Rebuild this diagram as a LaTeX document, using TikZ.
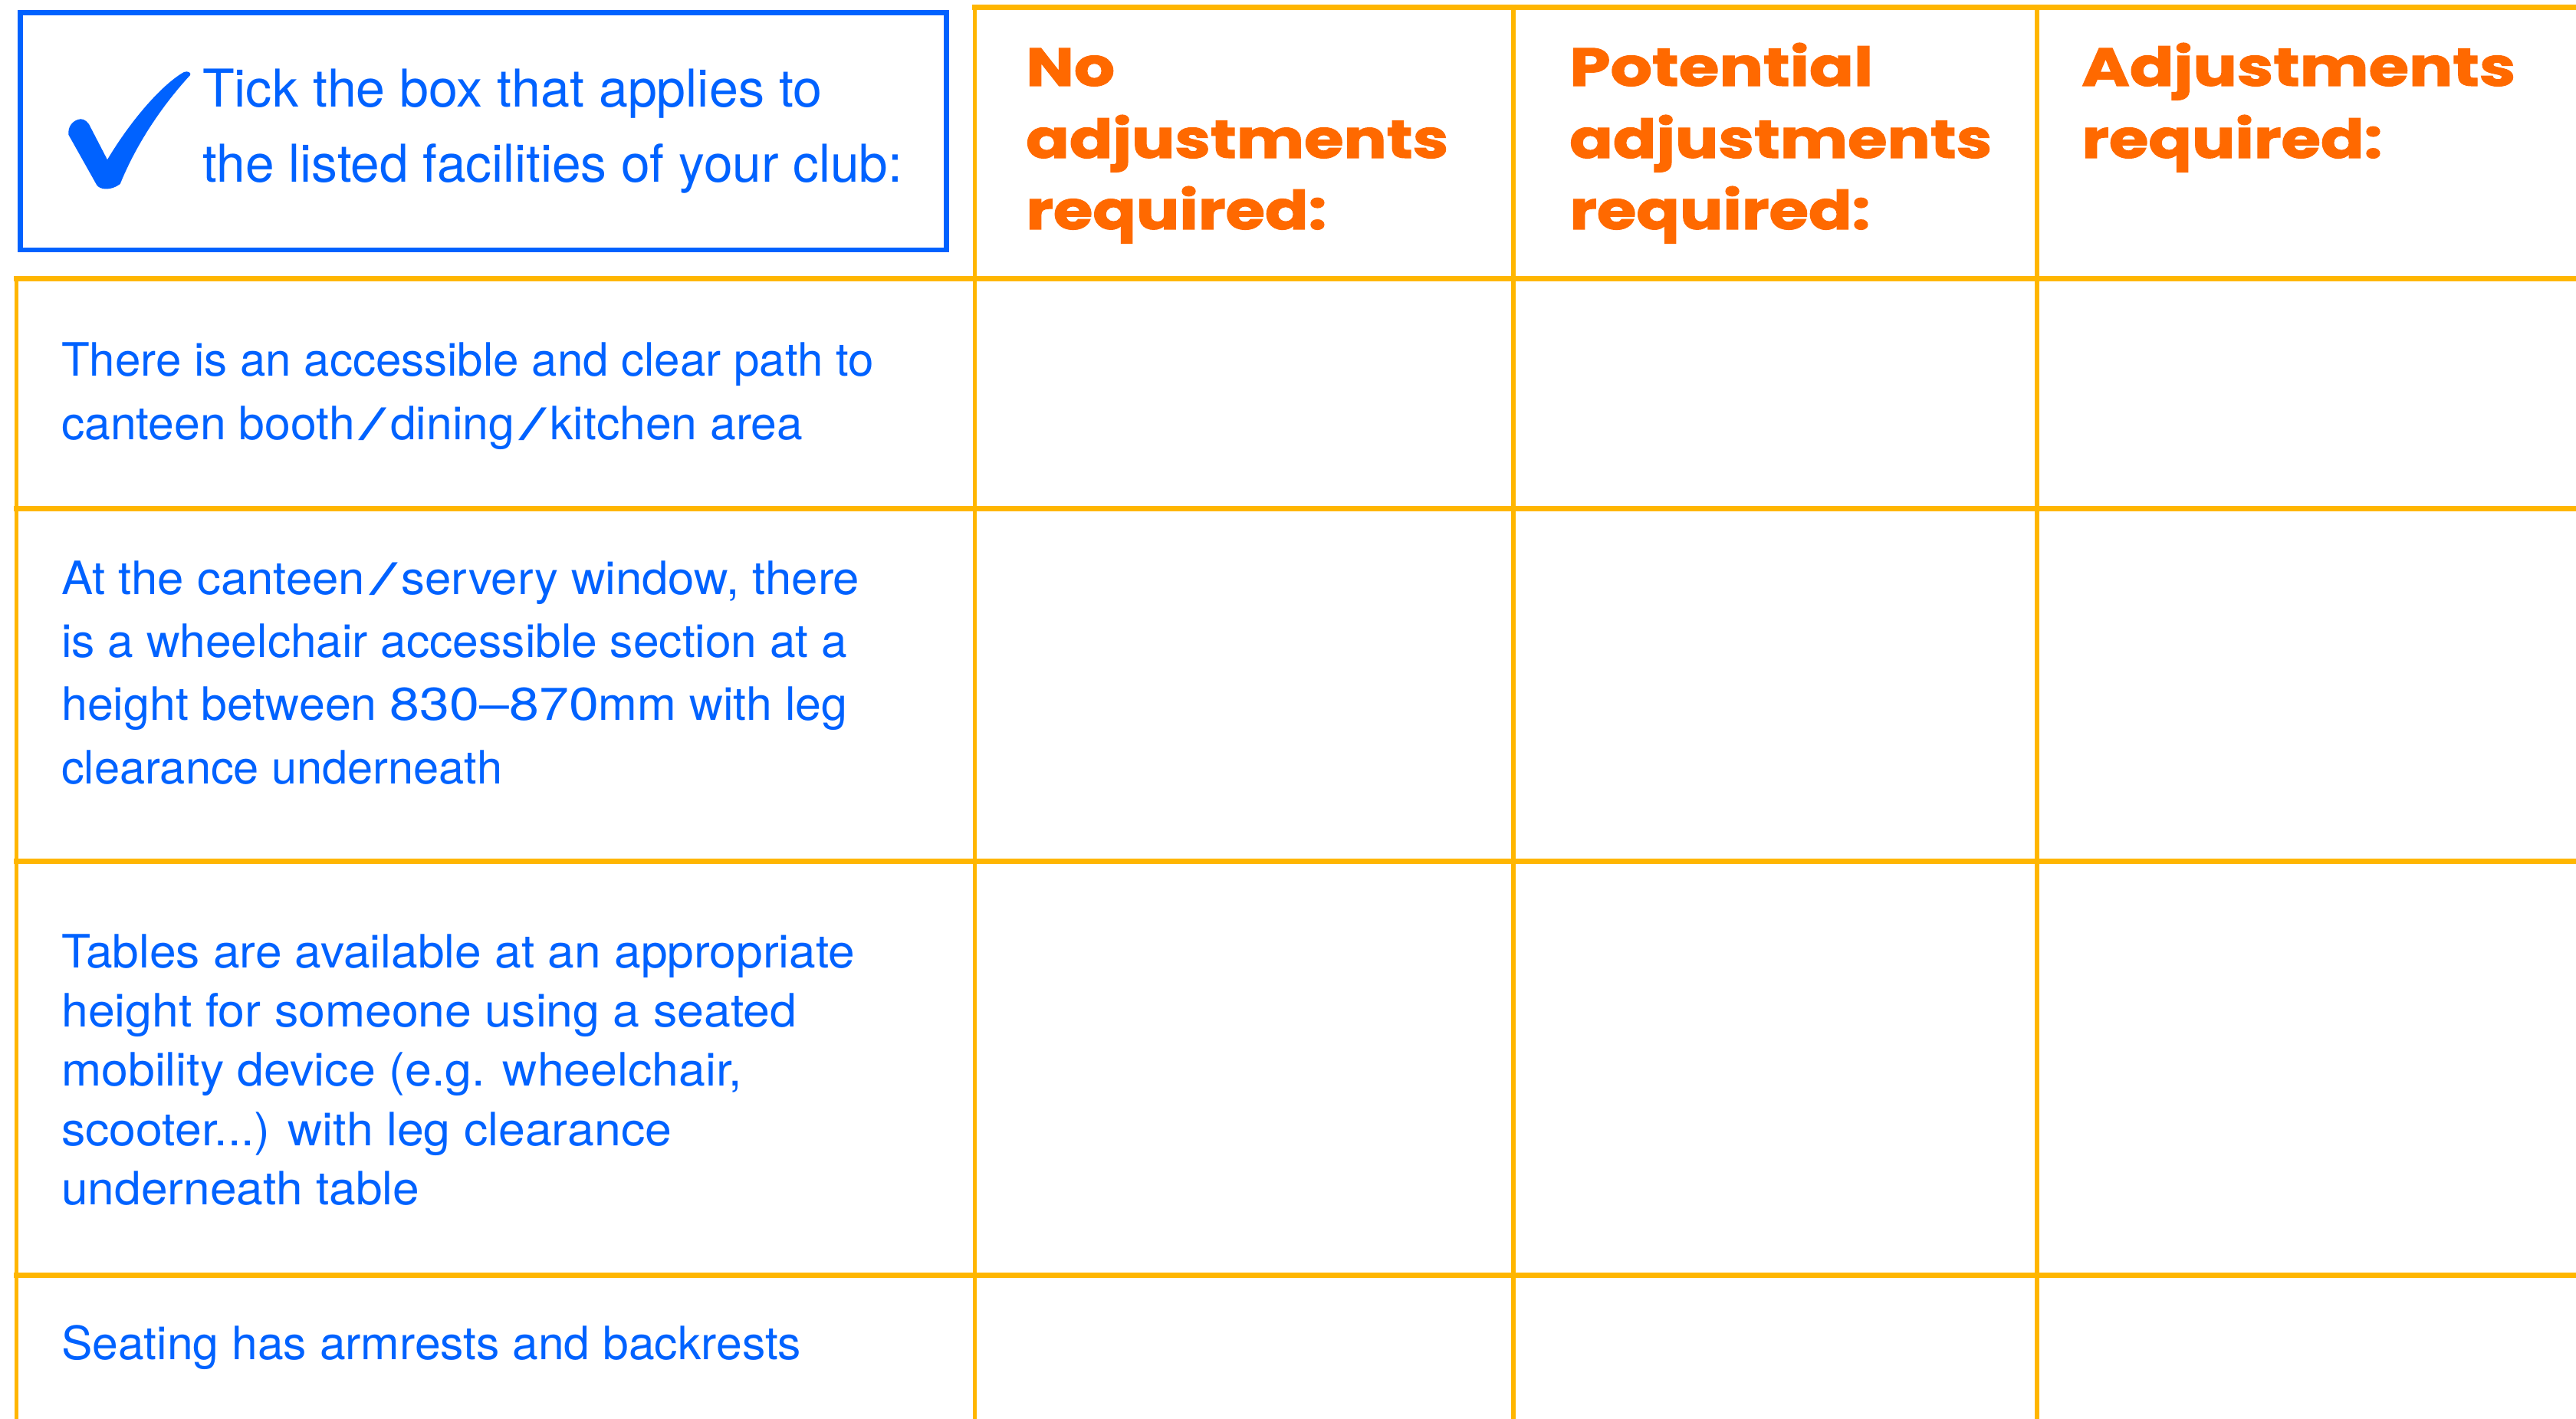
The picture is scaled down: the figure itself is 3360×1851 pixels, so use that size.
\documentclass[tikz,border=0pt]{standalone}
\usepackage{fontspec}
\setmainfont{TeX Gyre Heros}
\newfontfamily\hdrfont{Poppins}[FakeBold=1.5]
\definecolor{tickblue}{RGB}{0,98,255}
\definecolor{hdrorange}{RGB}{255,105,0}
\definecolor{gridamber}{RGB}{255,182,0}
\newsavebox\hdrmeasure
\newsavebox\fitbox
\AtBeginDocument{%
  \sbox\hdrmeasure{\hdrfont\bfseries\fontsize{70}{80}\selectfont adjustments}%
  \pgfmathsetmacro\hs{551/\the\wd\hdrmeasure}%
  \global\let\hs\hs}
% scale a line horizontally to a given width (in pt)
\newcommand\fitto[2]{\sbox\fitbox{#2}\pgfmathsetmacro\fitf{#1/\the\wd\fitbox}\scalebox{\fitf}[1]{\usebox\fitbox}}
\newcommand\wslash{\kern6pt\scalebox{2.1}[0.95]{/}\kern5pt}
\tikzset{
  gridh/.style={line width=7pt, draw=gridamber},
  gridv/.style={line width=5.5pt, draw=gridamber},
  bluebox/.style={line width=6.5pt, draw=tickblue},
  bodytext/.style={anchor=base west, inner sep=0pt, text=tickblue, font=\fontsize{60}{72}\selectfont},
  introtext/.style={anchor=base west, inner sep=0pt, text=tickblue, font=\fontsize{68}{80}\selectfont},
  hdrtext/.style={anchor=base west, inner sep=0pt, text=hdrorange, font=\hdrfont\bfseries\fontsize{70}{80}\selectfont},
}
\begin{document}
\begin{tikzpicture}[x=1pt,y=-1pt]
\useasboundingbox[fill=white] (0,0) rectangle (3360,1851);
% grid
\draw[gridh] (1268,9.5) -- (3360,9.5);
\draw[gridh] (18,363.5) -- (3360,363.5);
\draw[gridh] (18,663.5) -- (3360,663.5);
\draw[gridh] (18,1123.5) -- (3360,1123.5);
\draw[gridh] (18,1663.5) -- (3360,1663.5);
\draw[gridv] (1271.5,6) -- (1271.5,1851);
\draw[gridv] (1974,6) -- (1974,1851);
\draw[gridv] (2657,6) -- (2657,1851);
\draw[gridv] (21.5,360) -- (21.5,1851);
% intro box
\draw[bluebox] (26.5,16.3) rectangle (1234.5,326);
\fill[tickblue] (101.7,156) .. controls (95,158) and (88,165) .. (89.5,176)
  -- (126,241) .. controls (130,248) and (145,249) .. (156.7,240)
  .. controls (175,195) and (205,145) .. (248,98)
  .. controls (250,95) and (245,92) .. (240,94)
  .. controls (215,108) and (175,150) .. (140,208.3)
  -- (116,162) .. controls (112,156) and (106,154) .. (101.7,156) -- cycle;
\node[introtext] (introa) at (264,140) {\fitto{808}{Tick the box that applies to}};
\node[introtext] (introb) at (264,238) {\fitto{913}{the listed facilities of your club:}};
% headers
\node[hdrtext] (h1a) at (1338,112) {\scalebox{\hs}[1]{No}};
\node[hdrtext] (h1b) at (1338,206) {\scalebox{\hs}[1]{adjustments}};
\node[hdrtext] (h1c) at (1338,299) {\scalebox{\hs}[1]{required:}};
\node[hdrtext] (h2a) at (2047,112) {\fitto{396}{Potential}};
\node[hdrtext] (h2b) at (2047,206) {\scalebox{\hs}[1]{adjustments}};
\node[hdrtext] (h2c) at (2047,299) {\scalebox{\hs}[1]{required:}};
\node[hdrtext] (h3a) at (2715,112) {\fitto{566}{Adjustments}};
\node[hdrtext] (h3b) at (2715,206) {\scalebox{\hs}[1]{required:}};
% row 1
\node[bodytext] (r1a) at (80,490) {\fitto{1060}{There is an accessible and clear path to}};
\node[bodytext] (r1b) at (80,573) {\fitto{967}{canteen booth\wslash dining\wslash kitchen area}};
% row 2
\node[bodytext] (r2a) at (80,775) {\fitto{1041}{At the canteen\wslash servery window, there}};
\node[bodytext] (r2b) at (80,857) {\fitto{1025}{is a wheelchair accessible section at a}};
\node[bodytext] (r2c) at (80,939) {\fitto{1025}{height between \scalebox{1.15}[1]{830–870}mm with leg}};
\node[bodytext] (r2d) at (80,1022) {\fitto{575}{clearance underneath}};
% row 3
\node[bodytext] (r3a) at (80,1262) {\fitto{1035}{Tables are available at an appropriate}};
\node[bodytext] (r3b) at (80,1339) {\fitto{959}{height for someone using a seated}};
\node[bodytext] (r3c) at (80,1416) {\fitto{888}{mobility device (e.g. wheelchair,}};
\node[bodytext] (r3d) at (80,1494) {\fitto{796}{scooter...) with leg clearance}};
\node[bodytext] (r3e) at (80,1571) {\fitto{467}{underneath table}};
% row 4
\node[bodytext] (r4a) at (80,1773) {\fitto{965}{Seating has armrests and backrests}};
\end{tikzpicture}
\end{document}
